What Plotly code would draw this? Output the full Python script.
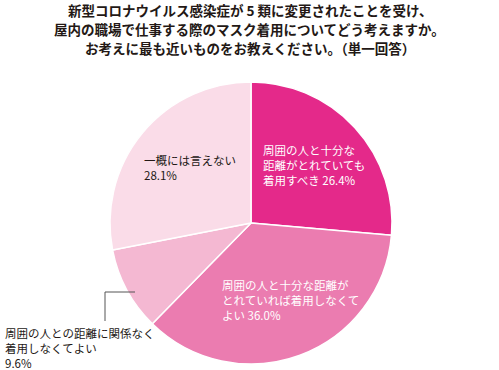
import plotly.graph_objects as go

categories = [
    ["周囲の人と十分な", "距離がとれていても", "着用すべき"],
    ["周囲の人と十分な距離が", "とれていれば着用しなくて", "よい"],
    ["周囲の人との距離に関係なく", "着用しなくてよい"],
    ["一概には言えない"],
]
values = [26.4, 36.0, 9.6, 28.1]
colors = ["#E4298A", "#EB7CB0", "#F4B8D2", "#FADCE8"]
title_lines = [
    "新型コロナウイルス感染症が 5 類に変更されたことを受け、",
    "屋内の職場で仕事する際のマスク着用についてどう考えますか。",
    "お考えに最も近いものをお教えください。（単一回答）",
]

W, H = 499, 370
FONT = "Noto Sans CJK JP, Noto Sans, sans-serif"

def py(px):
    return 1 - px / H

def pxx(px):
    return px / W

cx, cy, r = 251, 223, 141

fig = go.Figure(go.Pie(
    values=values,
    labels=["".join(c) for c in categories],
    sort=False,
    direction="clockwise",
    rotation=0,
    marker=dict(colors=colors, line=dict(color="white", width=1.5)),
    textinfo="none",
    hoverinfo="label+percent",
    showlegend=False,
    domain=dict(x=[pxx(cx - r), pxx(cx + r)], y=[py(cy + r), py(cy - r)]),
))

anns = []
for line, yc in zip(title_lines, [10, 29, 48]):
    anns.append(dict(
        text="<b>" + line + "</b>",
        x=pxx(250), y=py(yc), xref="paper", yref="paper",
        xanchor="center", yanchor="middle", showarrow=False,
        borderpad=0,
        font=dict(family=FONT, size=13.5, color="#231815"),
    ))

# (left x, first line center y, color, percent on own line)
label_pos = [
    (262, 150, "white", False),
    (221, 285, "white", False),
    (4, 333, "#231815", True),
    (143, 160, "#231815", True),
]
FS = 11.5
LS = FS * 1.3
for cat, v, (x, y, col, own) in zip(categories, values, label_pos):
    lines = list(cat)
    if own:
        lines.append(f"{v:.1f}%")
    else:
        lines[-1] = f"{lines[-1]} {v:.1f}%"
    yc = y + (len(lines) - 1) * LS / 2
    anns.append(dict(
        text="<br>".join(lines),
        x=pxx(x), y=py(yc), xref="paper", yref="paper",
        xanchor="left", yanchor="middle", showarrow=False, align="left",
        borderpad=0,
        font=dict(family=FONT, size=FS, color=col),
    ))

fig.update_layout(
    width=W, height=H,
    margin=dict(l=0, r=0, t=0, b=0),
    paper_bgcolor="white", plot_bgcolor="white",
    annotations=anns,
    shapes=[dict(type="path", xref="paper", yref="paper",
                 path=f"M {pxx(105)} {py(321)} L {pxx(105)} {py(292)} L {pxx(135)} {py(292)}",
                 line=dict(color="#555555", width=1))],
)

fig.write_html("out.html", config={"displayModeBar": False},
               post_script="document.body.style.margin='0';")
